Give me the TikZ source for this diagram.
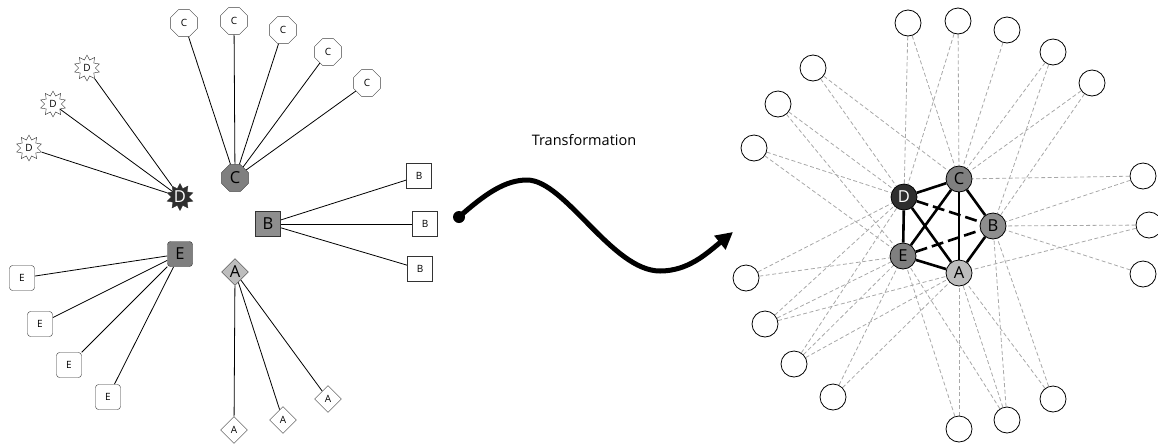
\documentclass[tikz,border=0pt]{standalone}
\usepackage{fontspec}
\setmainfont{Open Sans}
\usetikzlibrary{shapes.geometric,arrows.meta,backgrounds}

\definecolor{hubdark}{HTML}{2E2E2E}
\definecolor{hubmid}{HTML}{7F7F7F}
\definecolor{hubB}{HTML}{8E8E8E}
\definecolor{hublight}{HTML}{BDBDBD}
\definecolor{linkgray}{HTML}{A8A8A8}

\begin{document}
\begin{tikzpicture}[x=1pt,y=-1pt,
  smalltxt/.style={font=\fontsize{10}{11}\selectfont},
  bigtxt/.style={font=\fontsize{16.5}{18}\selectfont},
  octo/.style={regular polygon,regular polygon sides=8,draw=black!75,fill=white,
    minimum size=29pt,inner sep=0pt,smalltxt},
  spiky/.style={star,star points=10,star point ratio=1.55,draw=black!80,fill=white,
    minimum size=26pt,inner sep=0pt,smalltxt},
  sqbox/.style={rectangle,draw=black!80,fill=white,minimum size=25pt,inner sep=0pt,smalltxt},
  rndbox/.style={rectangle,rounded corners=3pt,draw=black!80,fill=white,
    minimum size=25pt,inner sep=0pt,smalltxt},
  rhomb/.style={diamond,aspect=1,draw=black!80,fill=white,minimum size=27pt,
    inner sep=0pt,smalltxt},
  spoke/.style={draw=black,line width=0.8pt},
  ring/.style={circle,draw=black,line width=0.8pt,fill=white,minimum size=26pt,inner sep=0pt},
  hub/.style={ring,bigtxt},
  weak/.style={draw=linkgray,line width=0.8pt,dash pattern=on 4pt off 2.5pt},
  strong/.style={draw=black,line width=2.6pt},
  strongdash/.style={strong,dash pattern=on 12pt off 5pt},
]
\useasboundingbox (0,0) rectangle (1158,445);

% ---------- left: five stars ----------
\node[octo,fill=hubmid,bigtxt] (C) at (235,178) {C};
\node[octo] (c1) at (184,23) {C};
\node[octo] (c2) at (234,21) {C};
\node[octo] (c3) at (283,30) {C};
\node[octo] (c4) at (328,52) {C};
\node[octo] (c5) at (367,83) {C};

\node[spiky,fill=hubdark,text=white,bigtxt,minimum size=27pt] (D) at (180,197) {D};
\node[spiky] (d1) at (87,68) {D};
\node[spiky] (d2) at (53,104) {D};
\node[spiky] (d3) at (29,148) {D};

\node[sqbox,fill=hubB,bigtxt] (B) at (268,224) {B};
\node[sqbox] (b1) at (419,176) {B};
\node[sqbox] (b2) at (425,224) {B};
\node[sqbox] (b3) at (420,269) {B};

\node[rndbox,fill=hubmid,bigtxt] (E) at (180,254) {E};
\node[rndbox] (e1) at (22,278) {E};
\node[rndbox] (e2) at (40,324) {E};
\node[rndbox] (e3) at (69,365) {E};
\node[rndbox] (e4) at (108,397) {E};

\node[rhomb,fill=hublight,bigtxt] (A) at (235,272) {A};
\node[rhomb] (a1) at (234,430) {A};
\node[rhomb] (a2) at (283,420) {A};
\node[rhomb] (a3) at (328,399) {A};

\begin{scope}[on background layer]
  \foreach \k in {1,...,5} \draw[spoke] (C) -- (c\k);
  \foreach \k in {1,2,3} \draw[spoke] (D) -- (d\k);
  \foreach \k in {1,2,3} \draw[spoke] (B) -- (b\k);
  \foreach \k in {1,...,4} \draw[spoke] (E) -- (e\k);
  \foreach \k in {1,2,3} \draw[spoke] (A) -- (a\k);
\end{scope}

% ---------- middle: the transformation arrow ----------
\node[font=\fontsize{14.5}{16}\selectfont] (title) at (584,140) {Transformation};
\coordinate (from) at (459,217);
\coordinate (peak) at (527,180);
\coordinate (dip) at (660,271);
\coordinate (to) at (733,232);
\fill (from) circle (6pt);
\draw[line width=5pt,-{Triangle[length=17pt,width=17pt]}]
  (from) .. controls (485,194) and (505,180) .. (peak)
         .. controls (565,180) and (612,271) .. (dip)
         .. controls (688,271) and (706,254) .. (to);

% ---------- right: merged graph ----------
\node[hub,fill=hubdark,text=white] (RD) at (904,197) {D};
\node[hub,fill=hubmid] (RC) at (959,179) {C};
\node[hub,fill=hubB] (RB) at (993,226) {B};
\node[hub,fill=hubmid] (RE) at (903,256) {E};
\node[hub,fill=hublight] (RA) at (959,273) {A};

\node[ring] (o1) at (908,23) {};
\node[ring] (o2) at (958,21) {};
\node[ring] (o3) at (1007,30) {};
\node[ring] (o4) at (1053,52) {};
\node[ring] (o5) at (1092,83) {};
\node[ring] (o6) at (813,68) {};
\node[ring] (o7) at (778,104) {};
\node[ring] (o8) at (754,148) {};
\node[ring] (o9) at (1143,176) {};
\node[ring] (o10) at (1149,225) {};
\node[ring] (o11) at (1143,274) {};
\node[ring] (o12) at (746,278) {};
\node[ring] (o13) at (765,324) {};
\node[ring] (o14) at (794,364) {};
\node[ring] (o15) at (833,397) {};
\node[ring] (o16) at (959,429) {};
\node[ring] (o17) at (1007,420) {};
\node[ring] (o18) at (1053,399) {};

\begin{scope}[on background layer]
  \foreach \u/\v in {o1/RD,o1/RC,o2/RC,o2/RD,o3/RC,o4/RC,o4/RB,o5/RC,o5/RB,
      o6/RD,o6/RC,o7/RD,o7/RE,o8/RD,o8/RE,
      o9/RC,o9/RB,o10/RB,o10/RA,o11/RB,
      o12/RE,o12/RD,o13/RE,o13/RA,o13/RD,o14/RE,o14/RA,o14/RD,o15/RE,o15/RA,
      o16/RA,o16/RE,o17/RA,o17/RB,o17/RE,o18/RA,o18/RB}
    \draw[weak] (\u) -- (\v);
  \foreach \u/\v in {RD/RC,RD/RE,RD/RA,RC/RE,RC/RA,RC/RB,RB/RA,RE/RA}
    \draw[strong] (\u) -- (\v);
  \foreach \u/\v in {RD/RB,RE/RB}
    \draw[strongdash] (\u) -- (\v);
\end{scope}
\end{tikzpicture}
\end{document}
